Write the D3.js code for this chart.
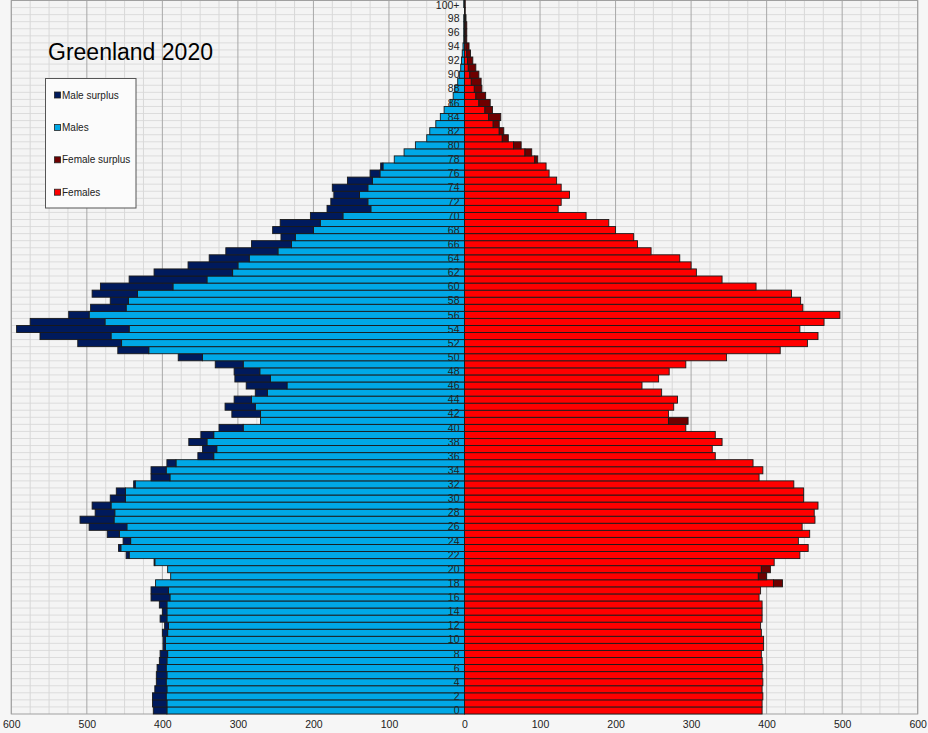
<!DOCTYPE html>
<html>
<head>
<meta charset="utf-8">
<script src="https://cdn.jsdelivr.net/npm/d3@7"></script>
<style>
html,body{margin:0;padding:0;background:#f6f6f6;}
svg{display:block;font-family:"Liberation Sans",Arial,sans-serif;}
</style>
</head>
<body>
<svg id="chart" width="928" height="733"></svg>
<script>
const title = "Greenland 2020";
const ages = d3.range(0, 101);
const ageLabels = ages.map(a => a === 100 ? "100+" : String(a));
const males = [412,413,413,410,408,408,407,404,403,399,
  399,400,397,403,400,404,415,415,409,389,
  393,411,448,458,452,473,497,509,489,493,
  469,461,438,415,415,394,353,347,365,349,
  325,270,308,317,305,277,289,304,305,330,
  379,459,512,562,593,575,524,495,469,493,
  482,444,411,366,338,316,282,243,254,244,
  204,182,177,173,175,155,125,111,93,80,
  65,50,46,38,32,27,19,15,13,9,
  7,5,4,3,2,1,1,1,1,0,1];
const females = [394,394,395,394,395,394,395,394,393,396,
  396,393,392,394,394,394,390,392,421,400,
  405,410,444,455,442,457,447,464,463,468,
  449,449,436,390,395,382,332,328,341,332,
  293,296,270,277,282,261,235,257,271,293,
  347,418,454,468,444,476,497,448,445,433,
  386,341,307,300,285,247,229,224,200,191,
  161,124,128,139,128,122,112,108,97,89,
  75,58,52,46,48,37,34,28,23,22,
  19,15,11,8,6,3,3,3,2,1,1];
const xTicks = [-600,-500,-400,-300,-200,-100,0,100,200,300,400,500,600];
const legendItems = ["Male surplus","Males","Female surplus","Females"];
const colors = {"Male surplus":"#001a5c","Males":"#00a8e6","Female surplus":"#6e0000","Females":"#ff0000"};

const svg = d3.select("#chart");
const x = d3.scaleLinear().domain([-600, 600]).range([11.3, 917.7]);
const y = d3.scaleBand().domain(ages).range([714, 0.5]).padding(0);

// plot background
svg.append("rect").attr("x", x(-600)).attr("y", y.range()[1])
  .attr("width", x(600) - x(-600)).attr("height", 714 - y.range()[1])
  .attr("fill", "#f4f4f4");

// horizontal grid lines at row boundaries
const g = svg.append("g");
ages.forEach(a => {
  g.append("line").attr("x1", x(-600)).attr("x2", x(600))
    .attr("y1", y(a)).attr("y2", y(a)).attr("stroke", "#dcdcdc").attr("stroke-width", 1);
});
// minor vertical grid
d3.range(-600, 601, 25).filter(v => v % 100 !== 0).forEach(v => {
  g.append("line").attr("x1", x(v)).attr("x2", x(v)).attr("y1", 0.5).attr("y2", 714)
    .attr("stroke", "#d8d8d8").attr("stroke-width", 1);
});
// major vertical grid
xTicks.forEach(v => {
  g.append("line").attr("x1", x(v)).attr("x2", x(v)).attr("y1", 0.5).attr("y2", 714)
    .attr("stroke", "#a8a8a8").attr("stroke-width", 1);
});
// frame
svg.append("rect").attr("x", x(-600)).attr("y", 0.5)
  .attr("width", x(600) - x(-600)).attr("height", 714 - 0.5)
  .attr("fill", "none").attr("stroke", "#a0a0a0");

// bars
const data = ages.map((a, i) => ({age: a, m: males[i], f: females[i]}));
const bars = svg.append("g").attr("stroke", "#1a1a1a").attr("stroke-width", 0.9);
data.forEach(d => {
  const mn = Math.min(d.m, d.f);
  const yy = y(d.age), h = y.bandwidth();
  bars.append("rect").attr("x", x(-mn)).attr("y", yy).attr("width", x(0) - x(-mn)).attr("height", h)
    .attr("fill", colors["Males"]);
  if (d.m > d.f) {
    bars.append("rect").attr("x", x(-d.m)).attr("y", yy).attr("width", x(-mn) - x(-d.m)).attr("height", h)
      .attr("fill", colors["Male surplus"]);
  }
  bars.append("rect").attr("x", x(0)).attr("y", yy).attr("width", x(mn) - x(0)).attr("height", h)
    .attr("fill", colors["Females"]);
  if (d.f > d.m) {
    bars.append("rect").attr("x", x(mn)).attr("y", yy).attr("width", x(d.f) - x(mn)).attr("height", h)
      .attr("fill", colors["Female surplus"]);
  }
});

// age labels
svg.append("g").selectAll("text").data(ages.filter(a => a % 2 === 0)).join("text")
  .attr("x", x(0) - 5).attr("y", a => Math.max(y(a) + y.bandwidth() / 2, 5.5))
  .attr("dy", "0.35em").attr("text-anchor", "end")
  .attr("font-size", 10.5).attr("fill", "#222")
  .text(a => ageLabels[a]);

// x axis labels
const xAxis = d3.axisBottom(x).tickValues(xTicks).tickSize(0).tickPadding(7)
  .tickFormat(v => String(Math.abs(v)));
const ax = svg.append("g").attr("transform", "translate(0,714)").call(xAxis);
ax.select(".domain").remove();
ax.selectAll("text").attr("font-size", 10.5).attr("fill", "#222")
  .attr("font-family", "\"Liberation Sans\",Arial,sans-serif");

// title
svg.append("text").attr("x", 48).attr("y", 60).attr("font-size", 23).attr("fill", "#000").text(title);

// legend
const lg = svg.append("g");
lg.append("rect").attr("x", 45.5).attr("y", 78.5).attr("width", 90.5).attr("height", 129.5)
  .attr("fill", "#fbfbfb").attr("stroke", "#555").attr("stroke-width", 1);
legendItems.forEach((name, i) => {
  const yy = 95 + i * 32.4;
  lg.append("rect").attr("x", 54.5).attr("y", yy - 3).attr("width", 6).attr("height", 6)
    .attr("fill", colors[name]).attr("stroke", "#222").attr("stroke-width", 0.8);
  lg.append("text").attr("x", 62).attr("y", yy).attr("dy", "0.35em")
    .attr("font-size", 10).attr("fill", "#222").text(name);
});
</script>
</body>
</html>
